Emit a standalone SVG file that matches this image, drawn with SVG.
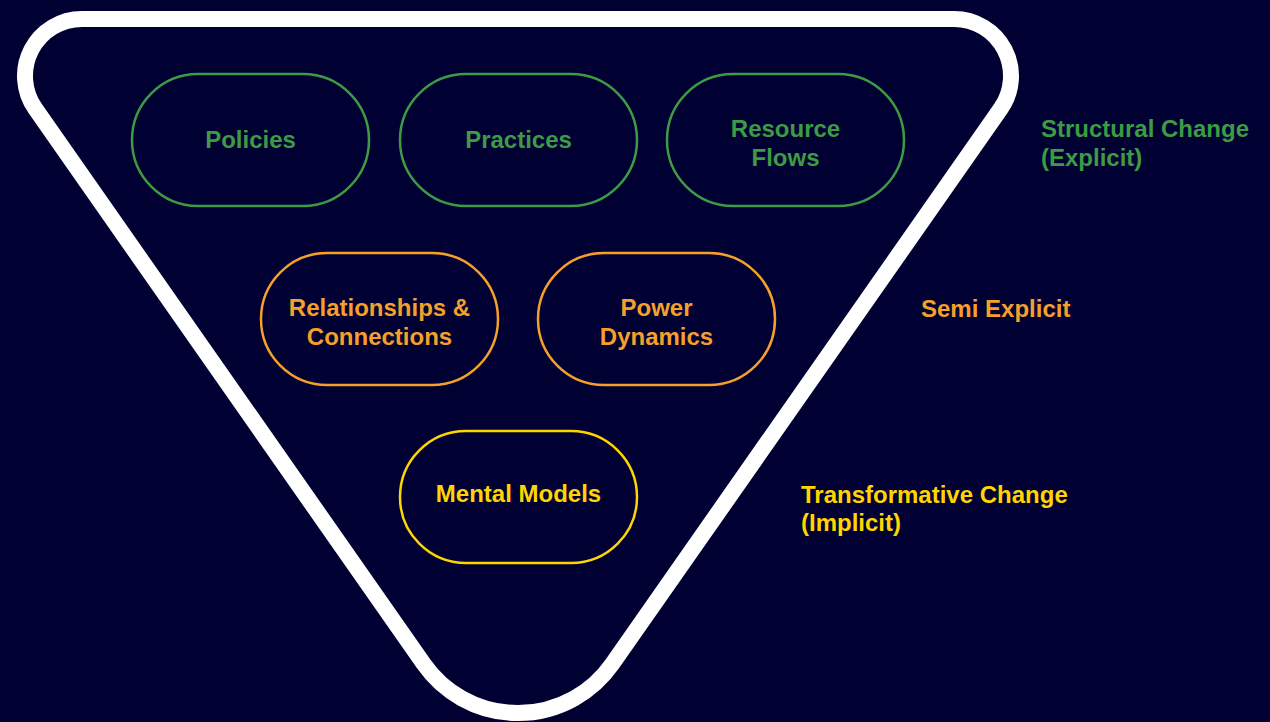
<svg xmlns="http://www.w3.org/2000/svg" width="1270" height="722" viewBox="0 0 1270 722">
  <style>
    .pill { fill: none; stroke-width: 2.5; }
    .t { font-family: "Liberation Sans", Arial, sans-serif; font-weight: bold; font-size: 24px; }
    .c { text-anchor: middle; }
    .green { stroke: #3d9b45; }
    .orange { stroke: #f5a02a; }
    .yellow { stroke: #ffd500; }
    .tg { fill: #3d9b45; }
    .to { fill: #f5a02a; }
    .ty { fill: #ffd500; }
  </style>
  <rect width="1270" height="722" fill="#000033"/>

  <!-- inverted rounded triangle frame -->
  <g id="frame">
    <path d="M 82 19 L 954 19 A 57 57 0 0 1 1000.7 108.7 L 612.2 664 A 115 115 0 0 1 423.8 664 L 35.3 108.7 A 57 57 0 0 1 82 19 Z" fill="none" stroke="#ffffff" stroke-width="16"/>
  </g>

  <!-- top tier: structural -->
  <g id="policies">
    <rect class="pill green" x="132" y="74" width="237" height="132" rx="66"/>
    <text class="t tg c" x="250.5" y="148">Policies</text>
  </g>
  <g id="practices">
    <rect class="pill green" x="400" y="74" width="237" height="132" rx="66"/>
    <text class="t tg c" x="518.5" y="148">Practices</text>
  </g>
  <g id="resource-flows">
    <rect class="pill green" x="667" y="74" width="237" height="132" rx="66"/>
    <text class="t tg c" x="785.5" y="137">Resource</text>
    <text class="t tg c" x="785.5" y="166">Flows</text>
  </g>

  <!-- middle tier: semi explicit -->
  <g id="relationships">
    <rect class="pill orange" x="261" y="253" width="237" height="132" rx="66"/>
    <text class="t to c" x="379.5" y="316">Relationships &amp;</text>
    <text class="t to c" x="379.5" y="345">Connections</text>
  </g>
  <g id="power-dynamics">
    <rect class="pill orange" x="538" y="253" width="237" height="132" rx="66"/>
    <text class="t to c" x="656.5" y="316">Power</text>
    <text class="t to c" x="656.5" y="345">Dynamics</text>
  </g>

  <!-- bottom tier: transformative -->
  <g id="mental-models">
    <rect class="pill yellow" x="400" y="431" width="237" height="132" rx="66"/>
    <text class="t ty c" x="518.5" y="502">Mental Models</text>
  </g>

  <!-- tier labels -->
  <g id="labels">
    <text class="t tg" x="1041" y="137">Structural Change</text>
    <text class="t tg" x="1041" y="166">(Explicit)</text>
    <text class="t to" x="921" y="317">Semi Explicit</text>
    <text class="t ty" x="801" y="503">Transformative Change</text>
    <text class="t ty" x="801" y="531">(Implicit)</text>
  </g>
</svg>
